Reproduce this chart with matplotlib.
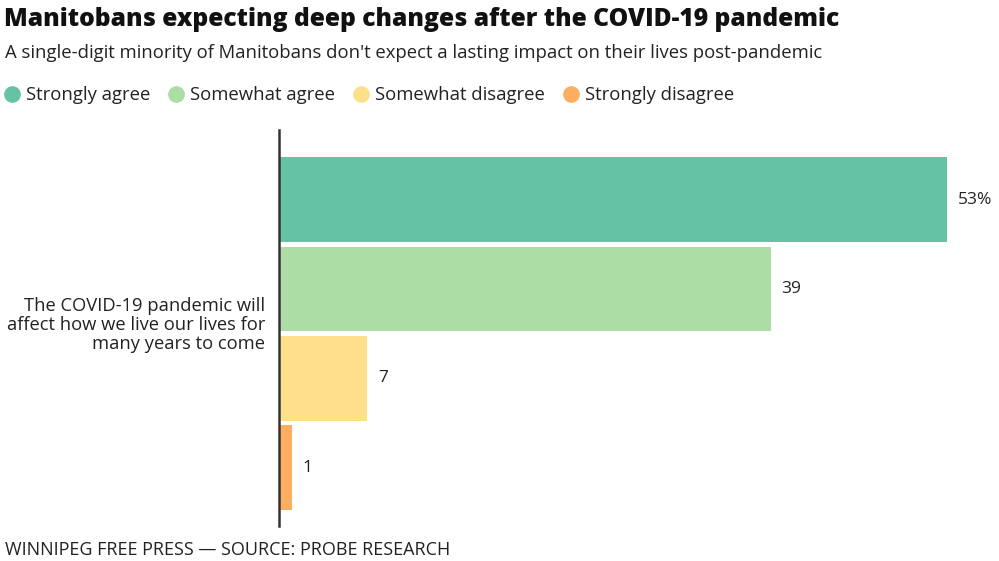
import matplotlib.pyplot as plt
from matplotlib.lines import Line2D

plt.rcParams['font.family'] = ['Open Sans', 'DejaVu Sans']

responses = ["Strongly agree", "Somewhat agree", "Somewhat disagree", "Strongly disagree"]
values = [53, 39, 7, 1]
value_labels = ["53%", "39", "7", "1"]
colors = ["#66c2a5", "#abdda4", "#fee08b", "#fdae61"]
question = "The COVID-19 pandemic will\naffect how we live our lives for\nmany years to come"

fig = plt.figure(figsize=(9.99, 5.61), dpi=100)
W, H = 999, 561
# axes: x 279..947 px, y 130..526 px
ax = fig.add_axes([279 / W, 1 - 526 / H, (947 - 279) / W, (526 - 130) / H])

pos = list(range(len(values)))
ax.barh(pos, values, height=0.95, color=colors)
ax.set_xlim(0, 53)
ax.set_ylim(3.655, -0.78)

for p, v, lab in zip(pos, values, value_labels):
    ax.text(v + 0.85, p, lab, va='center', ha='left', fontsize=12.5, color='#222222')

for s in ['top', 'right', 'bottom']:
    ax.spines[s].set_visible(False)
ax.spines['left'].set_color('#333333')
ax.spines['left'].set_linewidth(1.8)
ax.set_xticks([])
ax.set_yticks([])

fig.text(265 / W, 1 - 325 / H, question, ha='right', va='center', fontsize=13.2,
         color='#222222', linespacing=1.05)

fig.text(4 / W, 1 - 20 / H, "Manitobans expecting deep changes after the COVID-19 pandemic",
         fontsize=17.7, fontweight='heavy', color='#111111', va='center')
fig.text(5 / W, 1 - 53 / H,
         "A single-digit minority of Manitobans don't expect a lasting impact on their lives post-pandemic",
         fontsize=13.3, color='#222222', va='center')
fig.text(5 / W, 1 - 550 / H, "WINNIPEG FREE PRESS \u2014 SOURCE: PROBE RESEARCH",
         fontsize=13, color='#222222', va='center')

handles = [Line2D([], [], marker='o', linestyle='', markersize=11, color=c) for c in colors]
fig.legend(handles, responses, loc='center left', bbox_to_anchor=(-3 / W, 1 - 95 / H), ncol=4,
           frameon=False, fontsize=13.3, handletextpad=0.35, columnspacing=1.02,
           borderaxespad=0, handlelength=0.8, labelcolor='#222222')

fig.savefig("out.png", dpi=100)
